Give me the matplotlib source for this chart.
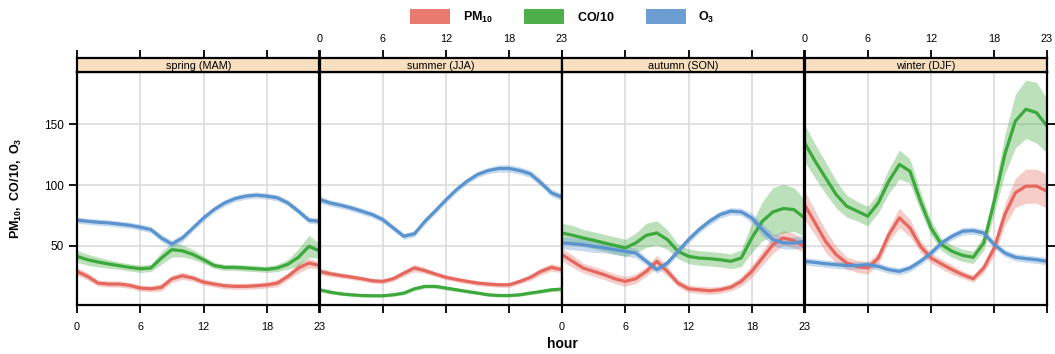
import numpy as np
import matplotlib
matplotlib.use('Agg')
import matplotlib.pyplot as plt
from matplotlib.patches import Patch

plt.rcParams['font.family'] = ['Liberation Sans', 'DejaVu Sans']
plt.rcParams['mathtext.fontset'] = 'custom'
plt.rcParams['mathtext.bf'] = 'Liberation Sans:bold'
plt.rcParams['mathtext.rm'] = 'Liberation Sans'

########## DATA ##########

hours = np.arange(24)
seasons = ['spring (MAM)', 'summer (JJA)', 'autumn (SON)', 'winter (DJF)']
pollutants = ['PM10', 'CO/10', 'O3']
legend_labels = [r'$\mathbf{PM_{10}}$', r'$\mathbf{CO/10}$', r'$\mathbf{O_3}$']
xticks = [0, 6, 12, 18, 23]
yticks = [50, 100, 150]

# hourly means per season
pm10_spring = [29, 25, 19.5, 18.7, 18.7, 17.6, 15.4, 14.8, 16, 23, 25.5, 23.6,
               20.3, 18.7, 17.3, 16.8, 16.8, 17.3, 18, 19.5, 25, 31.9, 36, 34]
co_spring = [41.5, 38.7, 36.8, 35.2, 33.8, 32.4, 31.3, 31.9, 40, 47, 46, 43,
             38.7, 34, 32.4, 32.4, 31.9, 31.3, 30.8, 31.9, 35, 40.7, 49.7, 46]
o3_spring = [71.2, 70.3, 69.5, 69, 68, 67, 65.4, 63.5, 56.6, 51.6, 56.6, 64.8,
             73, 80, 85.4, 89, 91, 91.8, 91, 89.6, 85.4, 78.6, 71.2, 70.3]

pm10_summer = [29.1, 27.2, 25.8, 24.5, 23.1, 21.4, 20.9, 23.1, 27.7, 31.9, 29.7, 26.9,
               24.2, 22.5, 20.9, 19.5, 18.7, 18.1, 18.1, 20.9, 24.2, 29.1, 32.4, 30.5]
co_summer = [14, 12.1, 10.7, 9.9, 9.3, 9.1, 9.1, 9.9, 11.3, 14.8, 16.8, 16.8,
             15.4, 14, 12.6, 11.3, 9.9, 9.3, 9.3, 9.9, 11.3, 12.6, 14, 14.6]
o3_summer = [88.2, 85.4, 83.5, 81.3, 78.6, 75.8, 71.7, 64.8, 58, 60, 70.3, 79,
             88, 96.4, 103.3, 108.8, 112, 113.7, 113.7, 112, 109.3, 101.9, 93.7, 90.1]

pm10_autumn = [42.9, 37.4, 31.9, 29.1, 26.4, 23.1, 20.9, 23.1, 29.1, 37.4, 29.1, 19.5,
               14.8, 14, 13.2, 14, 16, 20.9, 29.1, 40.1, 51.1, 56.6, 54.4, 49.7]
co_autumn = [60.7, 58.8, 56.6, 54.7, 52.5, 50.5, 48.4, 52.5, 58.8, 60.7, 55.2, 45.6,
             41.5, 40.1, 39.6, 38.7, 37.4, 40.1, 56.6, 70.3, 78, 80.8, 79.9, 73.1]
o3_autumn = [52.5, 51.9, 51.1, 49.7, 48.4, 47, 45.6, 44.2, 37.4, 30.5, 36, 45.6,
             55.2, 63.5, 70.3, 75.8, 78.6, 78, 73.1, 63.5, 55.2, 52.5, 52.5, 53.8]

pm10_winter = [84, 69, 53.8, 42.9, 36, 33.2, 31.9, 40.1, 59.3, 73.1, 64.8, 49.7,
               40.1, 35.2, 30.5, 26.4, 23.1, 31.9, 48.4, 75.8, 93.7, 99.2, 99.2, 95]
co_winter = [134.9, 119.8, 106, 92.3, 82.7, 78.6, 74.5, 85.4, 103.3, 117, 111.5, 86.8,
             64.8, 51.1, 45.6, 42.3, 40.7, 52.5, 86.8, 125.3, 152.7, 162.4, 159.6, 148.6]
o3_winter = [37.4, 36.5, 35.4, 34.6, 34, 34, 34.6, 33.2, 30.5, 29.1, 31.9, 37.4,
             44.2, 52.5, 58, 62.1, 62.6, 60.7, 51.1, 44.2, 40.7, 39.6, 38.7, 37.4]

# half width of the confidence band
pm10_spring_ci = [3, 3, 2.5, 2.5, 2.5, 2.5, 2.5, 2.5, 3, 3, 3, 2.5,
                  2.5, 2.5, 2.5, 2.5, 2.5, 2.5, 2.5, 3, 3, 4, 4, 3]
co_spring_ci = [5, 4.5, 4, 3.5, 3, 3, 3, 3, 5, 6, 5, 4,
                3, 2.5, 2.5, 2.5, 2.5, 2.5, 2.5, 3, 4, 7, 9, 6]
o3_spring_ci = [2.5, 2.5, 2.5, 2.5, 2.5, 2.5, 2.5, 2.5, 3, 3, 3, 2.5,
                2.5, 2.5, 2.5, 2.5, 2.5, 2.5, 2.5, 2.5, 2.5, 2.5, 2.5, 2.5]

pm10_summer_ci = [2.5, 2.5, 2, 2, 2, 2, 2, 2, 2.5, 3, 2.5, 2,
                  2, 2, 2, 2, 2, 2, 2, 2, 2.5, 3, 3, 2.5]
co_summer_ci = [1.5, 1.5, 1.2, 1.2, 1.2, 1.2, 1.2, 1.2, 1.5, 1.5, 1.5, 1.5,
                1.5, 1.5, 1.2, 1.2, 1.2, 1.2, 1.2, 1.2, 1.2, 1.5, 1.5, 1.5]
o3_summer_ci = [3, 2.5, 2.5, 2.5, 2.5, 2.5, 2.5, 2.5, 2.5, 2.5, 2.5, 2.5,
                2.5, 2.5, 2.5, 2.5, 2.5, 3, 3, 3, 3, 3, 3, 3]

pm10_autumn_ci = [5, 5, 4, 4, 4, 4, 4, 4, 4, 5, 4, 3,
                  3, 3, 3, 3, 3, 4, 5, 6, 7, 6, 6, 5]
co_autumn_ci = [8, 8, 7, 7, 7, 7, 7, 8, 10, 10, 8, 6,
                6, 6, 6, 6, 6, 7, 12, 16, 20, 20, 18, 15]
o3_autumn_ci = [5, 5, 5, 5, 4, 4, 4, 4, 3, 3, 3, 3,
                3, 3, 3, 3, 3, 3, 4, 5, 5, 5, 5, 5]

pm10_winter_ci = [12, 10, 9, 7, 5, 5, 5, 5, 6, 8, 7, 5,
                  4, 4, 4, 3, 3, 4, 6, 9, 12, 14, 14, 14]
co_winter_ci = [15, 14, 13, 11, 9, 8, 8, 8, 10, 12, 10, 8,
                6, 5, 5, 5, 5, 6, 10, 16, 22, 24, 25, 22]
o3_winter_ci = [3, 3, 3, 3, 3, 3, 3, 3, 3, 3, 3, 3,
                3, 3, 3, 3, 3, 3, 3, 3, 3, 3, 3, 3]

means = [[pm10_spring, co_spring, o3_spring],
         [pm10_summer, co_summer, o3_summer],
         [pm10_autumn, co_autumn, o3_autumn],
         [pm10_winter, co_winter, o3_winter]]
cis = [[pm10_spring_ci, co_spring_ci, o3_spring_ci],
       [pm10_summer_ci, co_summer_ci, o3_summer_ci],
       [pm10_autumn_ci, co_autumn_ci, o3_autumn_ci],
       [pm10_winter_ci, co_winter_ci, o3_winter_ci]]

line_cols = ['#E5675E', '#3DA93D', '#5B93CF']
fill_cols = ['#E97A70', '#4DAF4A', '#6C9ED4']
strip_col = '#F7DFC0'

########## PLOT ##########

fig = plt.figure(figsize=(10.55, 3.54), dpi=100)

W, H = 1055, 354
left, right = 77, 1047
top_plot, bottom_plot = 72, 305
strip_top = 58
pw = (right - left) / 4.0

for i, season in enumerate(seasons):
    x0 = left + i * pw
    ax = fig.add_axes([x0 / W, 1 - bottom_plot / H, pw / W, (bottom_plot - top_plot) / H])
    sx = fig.add_axes([x0 / W, 1 - top_plot / H, pw / W, (top_plot - strip_top) / H])

    for j in range(3):
        m = np.array(means[i][j])
        c = np.array(cis[i][j])
        ax.fill_between(hours, m - c, m + c, color=fill_cols[j], alpha=0.38, lw=0)
        ax.plot(hours, m, color=line_cols[j], lw=2.3, solid_capstyle='round')

    ax.set_xlim(0, 23)
    ax.set_ylim(1.5, 193)
    ax.set_xticks(xticks)
    ax.set_yticks(yticks)
    ax.grid(True, color='#dcdcdc', lw=1.2)
    ax.set_axisbelow(True)
    for sp in ax.spines.values():
        sp.set_linewidth(1.6)

    # alternate tick labels between bottom and top
    ax.tick_params(axis='x', direction='out', length=6, width=1.3, labelsize=7.8,
                   labelbottom=(i % 2 == 0), pad=6)
    ax.tick_params(axis='y', direction='out', length=6, width=1.3, labelsize=8.5,
                   left=(i == 0), labelleft=(i == 0), right=(i == 3), labelright=False)

    sx.set_facecolor(strip_col)
    sx.set_xlim(0, 23)
    sx.set_yticks([])
    sx.set_xticks(xticks)
    sx.xaxis.tick_top()
    sx.tick_params(axis='x', direction='out', length=6, width=1.3, labelsize=7.8,
                   labeltop=(i % 2 == 1), pad=4)
    for sp in sx.spines.values():
        sp.set_linewidth(1.6)
    sx.text(0.5, 0.45, season, transform=sx.transAxes, ha='center', va='center', fontsize=7.8)

fig.text(0.016, 1 - 188 / H, r'$\mathbf{PM_{10},\ CO/10,\ O_3}$', rotation=90,
         ha='center', va='center', fontsize=9)
fig.text(562 / W, 1 - 344 / H, 'hour', ha='center', va='center', fontsize=10, fontweight='bold')

handles = [Patch(facecolor=c, edgecolor='none') for c in fill_cols]
fig.legend(handles, legend_labels, loc='center', bbox_to_anchor=(0.533, 1 - 17 / H), ncol=3,
           frameon=False, handlelength=3.2, handleheight=1.4, columnspacing=2.5,
           handletextpad=1.0, fontsize=9)

fig.savefig('out.png', dpi=100)
